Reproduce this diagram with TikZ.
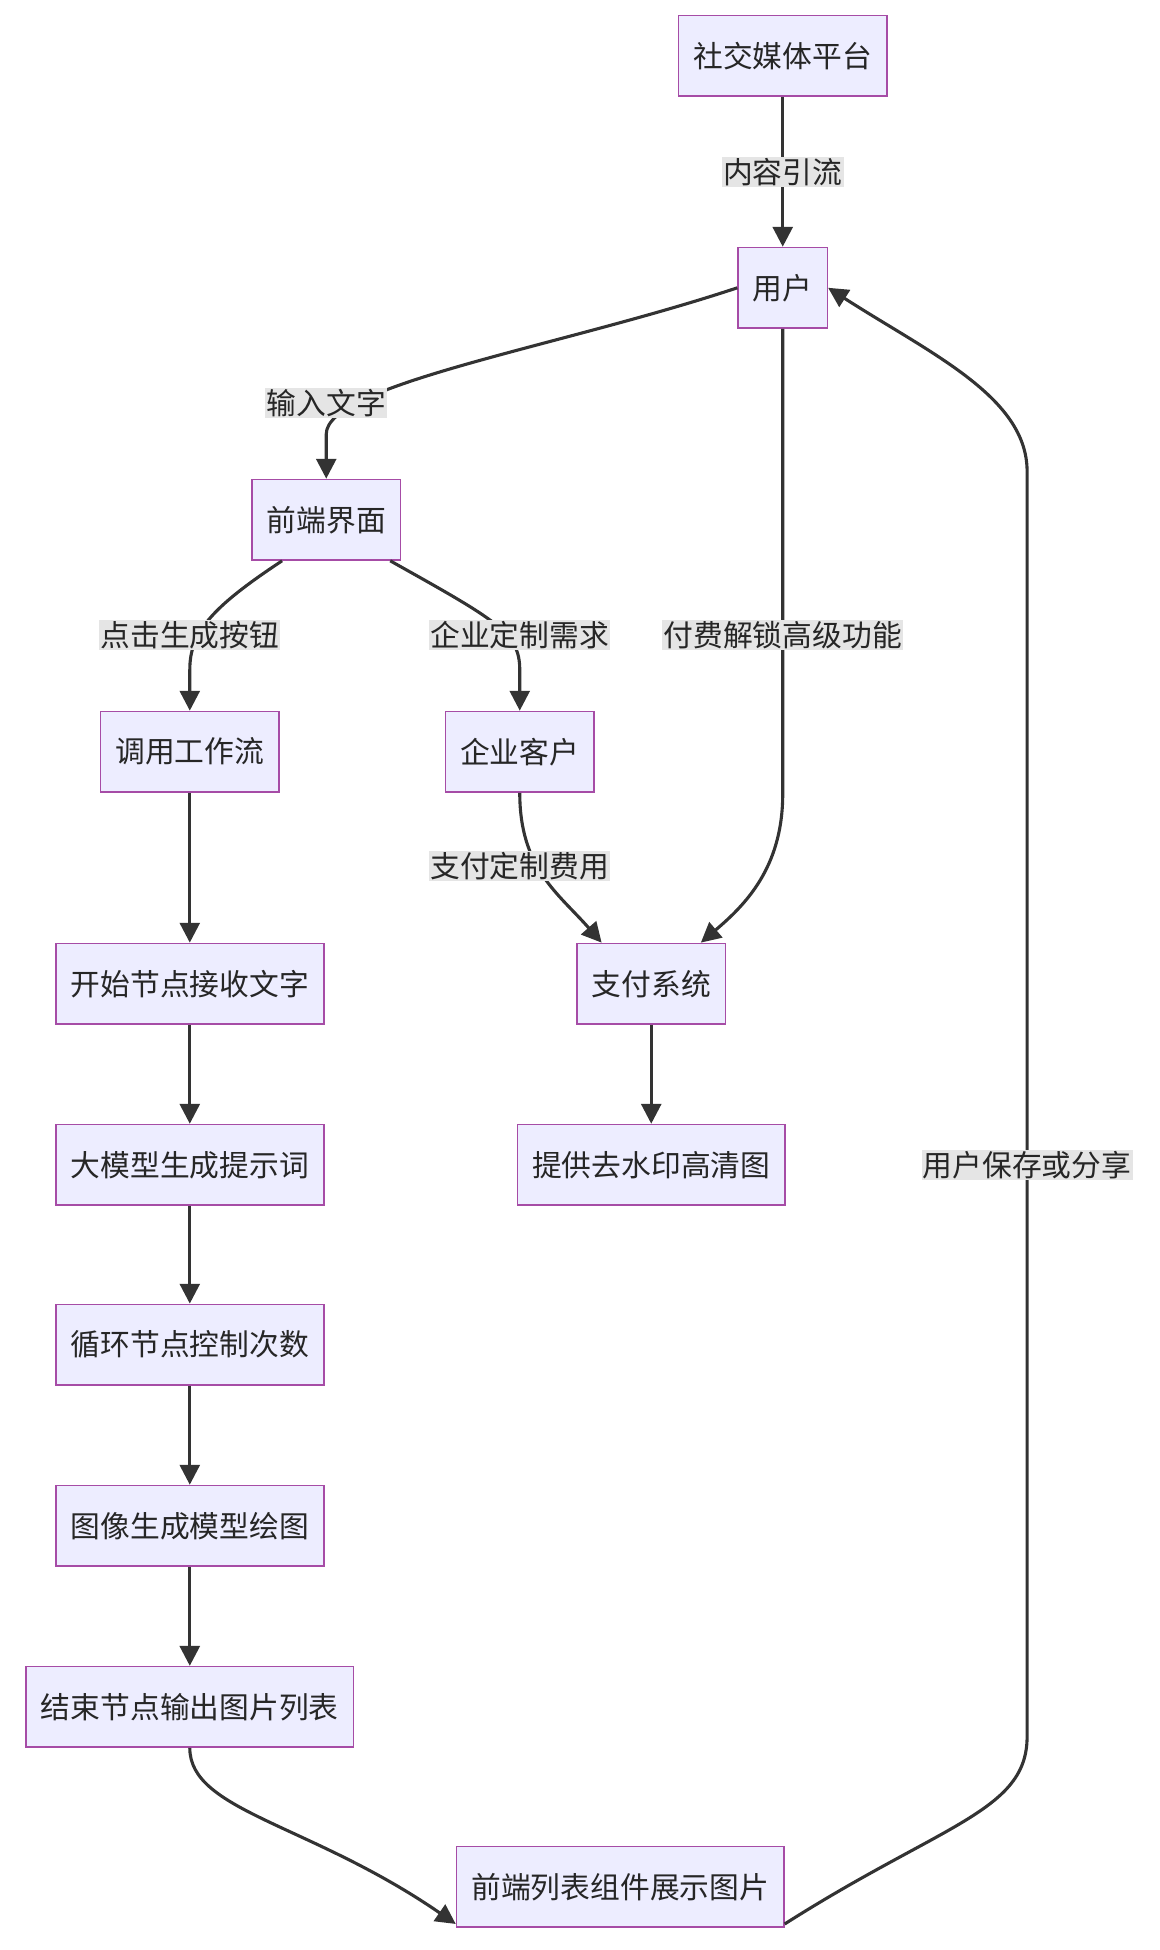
\documentclass[tikz,border=0pt]{standalone}
\usepackage{fontspec}
\setmainfont{Noto Sans CJK SC}
\usetikzlibrary{arrows.meta}
\begin{document}
\begin{tikzpicture}[x=1pt,y=-1pt,
 box/.style={draw=violet!70,fill=blue!7,line width=1.2pt,minimum height=65pt,inner xsep=12pt,font=\fontsize{24}{28}\selectfont,text=black!85},
 lab/.style={fill=black!10,inner sep=1pt,font=\fontsize{24}{28}\selectfont,text=black!85},
 ar/.style={draw=black!80,line width=2.5pt,-{Triangle[length=16pt,width=16pt]}}]
\useasboundingbox (0,0) rectangle (935,1572);
\node[box] (a) at (631,45) {社交媒体平台};
\node[box] (u) at (631,232) {用户};
\node[box] (f) at (263,419) {前端界面};
\node[box] (w) at (153,606) {调用工作流};
\node[box] (e) at (419,606) {企业客户};
\node[box] (s) at (153,793) {开始节点接收文字};
\node[box] (p) at (525,793) {支付系统};
\node[box] (m) at (153,939) {大模型生成提示词};
\node[box] (h) at (525,939) {提供去水印高清图};
\node[box] (l) at (153,1084) {循环节点控制次数};
\node[box] (g) at (153,1230) {图像生成模型绘图};
\node[box] (o) at (153,1376) {结束节点输出图片列表};
\node[box] (d) at (500,1521) {前端列表组件展示图片};
\draw[ar] (a) -- node[lab]{内容引流} (u);
\draw[ar] (u.west) .. controls (450,280) and (263,310) .. (263,350) -- (f.north);
\node[lab] at (263,325) {输入文字};
\draw[ar] (f.south west)++(25,0) .. controls (170,490) and (153,510) .. (153,540) -- (w.north);
\node[lab] at (153,512) {点击生成按钮};
\draw[ar] (f.south east)++(-9,0) .. controls (400,500) and (419,510) .. (419,540) -- (e.north);
\node[lab] at (419,512) {企业定制需求};
\draw[ar] (u.south) -- (631,640) .. controls (631,700) and (600,730) .. ([xshift=40pt]p.north);
\node[lab] at (631,512) {付费解锁高级功能};
\draw[ar] (e.south) .. controls (419,700) and (450,720) .. ([xshift=-40pt]p.north);
\node[lab] at (419,698) {支付定制费用};
\draw[ar] (p) -- (h);
\draw[ar] (w) -- (s);
\draw[ar] (s) -- (m);
\draw[ar] (m) -- (l);
\draw[ar] (l) -- (g);
\draw[ar] (g) -- (o);
\draw[ar] (o.south) .. controls (153,1460) and (250,1470) .. ([yshift=-30pt]d.west);
\draw[ar] ([yshift=-30pt]d.east) .. controls (760,1470) and (828,1460) .. (828,1400) -- (828,380) .. controls (828,320) and (750,285) .. (u.east);
\node[lab] at (828,939) {用户保存或分享};
\end{tikzpicture}
\end{document}
